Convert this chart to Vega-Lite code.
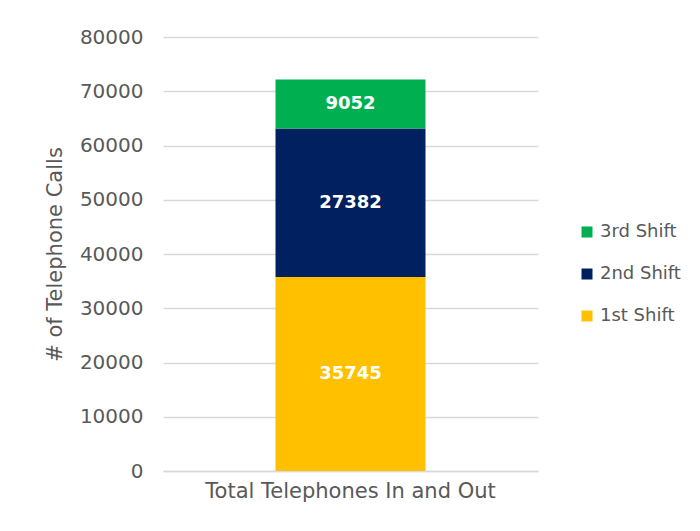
{
  "$schema": "https://vega.github.io/schema/vega-lite/v6.json",
  "autosize": "none",
  "width": 375,
  "height": 434,
  "padding": {"left": 163, "top": 37, "right": 162, "bottom": 60},
  "background": "#ffffff",
  "config": {
    "font": "DejaVu Sans",
    "view": {"stroke": null},
    "axis": {"labelColor": "#595959", "titleColor": "#595959", "labelFont": "DejaVu Sans", "titleFont": "DejaVu Sans"}
  },
  "data": {
    "values": [
      {"category": "Total Telephones In and Out", "shift": "1st Shift", "calls": 35745},
      {"category": "Total Telephones In and Out", "shift": "2nd Shift", "calls": 27382},
      {"category": "Total Telephones In and Out", "shift": "3rd Shift", "calls": 9052}
    ]
  },
  "encoding": {
    "x": {
      "field": "category",
      "type": "nominal",
      "scale": {"padding": 0.4286},
      "axis": {"title": null, "labelAngle": 0, "labelFontSize": 21, "labelLimit": 500, "ticks": false, "domain": true, "domainColor": "#D9D9D9", "domainWidth": 1.5, "labelPadding": 9}
    },
    "y": {
      "field": "calls",
      "type": "quantitative",
      "stack": "zero",
      "scale": {"domain": [0, 80000], "nice": false},
      "axis": {"title": "# of Telephone Calls", "titleFontSize": 21, "titleFontWeight": "normal", "labelFontSize": 20, "values": [0, 10000, 20000, 30000, 40000, 50000, 60000, 70000, 80000], "format": "d", "ticks": false, "domain": false, "gridColor": "#D9D9D9", "gridWidth": 1.5, "labelPadding": 20, "titlePadding": 14}
    },
    "order": {"field": "shift", "sort": "ascending"}
  },
  "layer": [
    {
      "mark": {"type": "bar"},
      "encoding": {
        "color": {
          "field": "shift",
          "type": "nominal",
          "sort": "descending",
          "scale": {"domain": ["3rd Shift", "2nd Shift", "1st Shift"], "range": ["#00B050", "#002060", "#FFC000"]},
          "legend": {"title": null, "orient": "none", "legendX": 415, "legendY": 186, "symbolType": "square", "symbolSize": 121, "symbolStrokeWidth": 0, "labelFontSize": 18, "labelColor": "#595959", "labelFont": "DejaVu Sans", "rowPadding": 24, "labelOffset": 4}
        }
      }
    },
    {
      "mark": {"type": "text", "color": "#ffffff", "fontWeight": "bold", "fontSize": 18},
      "encoding": {
        "y": {"field": "calls", "type": "quantitative", "stack": "zero", "bandPosition": 0.5},
        "text": {"field": "calls", "type": "quantitative", "format": "d"}
      }
    }
  ]
}
